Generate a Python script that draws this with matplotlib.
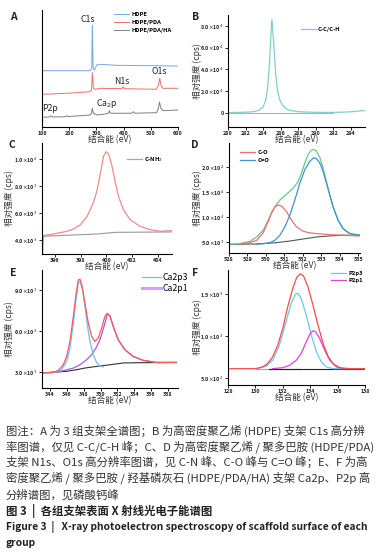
import matplotlib
matplotlib.use('Agg')
import matplotlib.pyplot as plt

plt.rcParams['font.family'] = ['Noto Sans CJK SC', 'DejaVu Sans']
plt.rcParams['mathtext.fontset'] = 'dejavusans'
plt.rcParams['axes.linewidth'] = 0.8

# ---- A: survey spectra (arbitrary offset units) ----
a_hdpe_x = [100, 277, 283, 285, 288, 293, 301, 313, 374, 600]
a_hdpe_y = [56.3, 56.3, 58.7, 102, 58.7, 57, 62, 62.7, 61.7, 61]
a_pda_x = [100, 191, 277, 282, 285, 289, 295, 313, 393, 399, 402, 521, 528, 533, 538, 545, 600]
a_pda_y = [32.7, 33.7, 35.3, 37, 54.3, 38.7, 37.7, 38.7, 38.3, 40.3, 38.3, 37.7, 42, 48.7, 41, 38.7, 38.7]
a_ha_x = [100, 128, 133, 138, 186, 191, 196, 277, 282, 285, 289, 301, 326, 344, 348, 351, 362,
          430, 436, 442, 521, 528, 532, 537, 545, 600]
a_ha_y = [9.7, 10, 11.2, 10, 10.3, 11.3, 10.4, 12, 13.7, 18.7, 13.7, 12, 12.7, 13.7, 16.3, 14, 13.7,
          13.8, 15.3, 13.8, 14.3, 18.7, 25, 18.7, 16.3, 17]

# ---- B: C1s of HDPE ----
b_x = [280, 281, 282, 282.5, 283, 283.5, 284, 284.3, 284.5, 284.7, 284.85, 285.0, 285.15, 285.3,
       285.45, 285.65, 285.9, 286.2, 286.6, 287, 288, 289, 290, 291, 292, 293, 294, 295, 295.6]
b_y = [300, 500, 700, 900, 1300, 2300, 5500, 12000, 22000, 43000, 66000, 86000, 70000, 52000,
       34000, 20000, 12000, 7000, 4000, 2500, 1200, 800, 600, 500, 500, 700, 1100, 1800, 2300]
b_base_x = [280, 292]
b_base_y = [0, 0]

# ---- C: N1s of HDPE/PDA ----
c_x = [395.1, 395.92, 396.95, 397.47, 397.98, 398.5, 399.02, 399.27, 399.53, 399.79, 399.99,
       400.18, 400.43, 400.69, 400.95, 401.34, 401.85, 402.62, 403.4, 404.17, 405.07]
c_y = [4360, 4480, 4680, 4850, 5160, 5770, 6860, 7700, 8920, 10250, 10560,
       10370, 9520, 8310, 7220, 6250, 5530, 5040, 4800, 4680, 4730]
c_base_x = [395.05, 395.1, 399.3, 400.7, 405.05]
c_base_y = [3000, 4310, 4480, 4600, 4630]

# ---- D: O1s of HDPE/PDA ----
d_env_x = [528.0, 528.59, 529.14, 529.5, 529.86, 530.22, 530.49, 530.76, 531.12, 531.48, 531.75,
           531.93, 532.11, 532.29, 532.47, 532.59, 532.74, 532.92, 533.1, 533.28, 533.46, 533.64,
           533.91, 534.18, 534.54, 535.08]
d_env_y = [4530, 4660, 5130, 6010, 7360, 10050, 12070, 13410, 14560, 15770, 17110,
           18800, 20820, 22500, 23370, 23510, 23170, 21960, 19810, 17110, 14420, 12070,
           9370, 7690, 6680, 6350]
d_co_x = [528.59, 529.14, 529.5, 529.86, 530.13, 530.31, 530.49, 530.67, 530.85, 531.12, 531.39,
          531.66, 532.02, 532.38, 532.74, 533.46, 534.18, 535.08]
d_co_y = [4600, 4870, 5340, 6880, 9170, 10920, 12070, 12400, 12200, 11060, 9370,
          8030, 7150, 6820, 6680, 6480, 6350, 6210]
d_c2o_x = [529.5, 529.86, 530.22, 530.49, 530.76, 531.03, 531.3, 531.57, 531.84, 532.11, 532.38,
           532.59, 532.74, 532.92, 533.1, 533.28, 533.46, 533.64, 533.91, 534.18, 534.54, 535.08]
d_c2o_y = [4600, 4660, 4870, 5340, 6350, 8030, 10380, 13410, 16780, 19470, 21150,
           21830, 21690, 20820, 19130, 16780, 14420, 12070, 9370, 7690, 6680, 6350]
d_base_x = [528.0, 529.5, 530.58, 531.3, 532.02, 532.74, 533.46, 534.18, 535.08]
d_base_y = [4530, 4600, 4870, 5200, 5600, 6010, 6210, 6350, 6350]

# ---- E: Ca2p of HDPE/PDA/HA ----
e_env_x = [343.13, 344.4, 344.99, 345.58, 345.98, 346.37, 346.77, 347.08, 347.36, 347.56, 347.79,
           348.15, 348.55, 348.94, 349.34, 349.73, 350.13, 350.52, 350.8, 351.11, 351.51, 352.1,
           352.89, 353.88, 355.07, 356.65, 359.02]
e_env_y = [2930, 2980, 3120, 3530, 4140, 5240, 7060, 8640, 9730, 9780, 9370,
           8030, 6570, 5600, 5240, 5480, 6210, 7060, 7300, 7110, 6330, 5360,
           4630, 4140, 3850, 3700, 3700]
e_p3_x = [343.13, 344.59, 345.38, 345.98, 346.37, 346.77, 347.08, 347.36, 347.56, 347.87, 348.15,
          348.43, 348.74, 349.14, 349.53, 349.93, 350.32]
e_p3_y = [2930, 2980, 3170, 3780, 4750, 6570, 8270, 9540, 9590, 9000, 7790,
          6450, 5240, 4260, 3700, 3460, 3360]
e_p1_x = [344.0, 344.99, 345.98, 346.77, 347.56, 348.35, 348.94, 349.53, 349.93, 350.32, 350.64,
          350.8, 351.11, 351.51, 352.1, 352.89, 353.88, 355.07, 356.65, 359.02]
e_p1_y = [2950, 3020, 3150, 3290, 3530, 3900, 4260, 4820, 5360, 6130, 6820,
          7250, 7110, 6330, 5360, 4630, 4140, 3850, 3700, 3700]
e_base_x = [343.13, 345.98, 347.16, 348.15, 349.53, 351.11, 352.69, 354.67, 359.02]
e_base_y = [2930, 3050, 3170, 3290, 3410, 3530, 3660, 3680, 3700]

# ---- F: P2p of HDPE/PDA/HA ----
f_env_x = [128.0, 130.03, 130.52, 130.89, 131.26, 131.63, 132.0, 132.36, 132.73, 133.02, 133.27,
           133.51, 133.83, 134.2, 134.57, 134.94, 135.3, 135.67, 136.16, 136.9, 138.0]
f_env_y = [612, 612, 632, 672, 752, 892, 1092, 1352, 1572, 1704, 1744,
           1720, 1592, 1372, 1132, 912, 760, 672, 624, 612, 612]
f_p3_x = [130.03, 130.77, 131.26, 131.75, 132.24, 132.61, 132.93, 133.1, 133.34, 133.71, 134.08,
          134.45, 134.81, 135.18, 135.67, 138.0]
f_p3_y = [612, 640, 712, 892, 1172, 1392, 1504, 1512, 1452, 1252, 1012,
          812, 692, 632, 612, 612]
f_p1_x = [131.26, 132.0, 132.49, 132.98, 133.34, 133.71, 134.0, 134.2, 134.4, 134.69, 135.06,
          135.43, 135.92, 136.41]
f_p1_y = [612, 624, 652, 712, 792, 932, 1032, 1064, 1052, 972, 832,
          712, 632, 612]
f_base_x = [131.0, 138.0]
f_base_y = [612, 612]
f_grey_x = [130.03, 133.22]
f_grey_y = [604, 604]

W, H = 380, 555
fig = plt.figure(figsize=(W / 100, H / 100), dpi=100)

TICK_FS = 3.9
LAB_FS = 6.2


def make_ax(l, t, r, b, ylab_x=None):
    ax = fig.add_axes([l / W, 1 - b / H, (r - l) / W, (b - t) / H])
    ax.patch.set_alpha(0)
    ax.spines['top'].set_visible(False)
    ax.spines['right'].set_visible(False)
    ax.tick_params(labelsize=TICK_FS, length=2, width=0.6, pad=1.2)
    ax.set_xlabel('结合能 (eV)', fontsize=LAB_FS, color='#333333')
    ax.xaxis.set_label_coords(0.5, -(12.5 / (b - t)))
    ax.xaxis.label.set_va('center')
    if ylab_x is not None:
        ax.set_ylabel('相对强度 (cps)', fontsize=LAB_FS, color='#333333')
        ax.yaxis.set_label_coords((ylab_x - l) / (r - l), 0.5)
        ax.yaxis.label.set_va('center')
    return ax


def style_ticks(ax):
    for lab in ax.get_xticklabels() + ax.get_yticklabels():
        lab.set_fontweight('bold')
        lab.set_fontsize(TICK_FS)
        lab.set_color('#222222')


leg_kw = dict(frameon=False, handlelength=2.6, handletextpad=0.4, borderpad=0.2,
              prop={'weight': 'bold', 'size': 4.2})

# A
axA = make_ax(42, 10, 178, 127)
axA.plot(a_hdpe_x, a_hdpe_y, color='#6fa8e6', lw=0.7, label='HDPE')
axA.plot(a_pda_x, a_pda_y, color='#f26d6d', lw=0.7, label='HDPE/PDA')
axA.plot(a_ha_x, a_ha_y, color='#7f7f7f', lw=0.7, label='HDPE/PDA/HA')
axA.set_xlim(100, 600)
axA.set_ylim(0, 117)
axA.set_yticks([])
axA.set_xticks([100, 200, 300, 400, 500, 600])
axA.legend(loc='upper left', bbox_to_anchor=(0.5, 1.02), labelspacing=0.55, **leg_kw)
for txt, x, y in [('C1s', 270, 108), ('N1s', 393, 45.5), ('O1s', 531, 55.5),
                  ('P2p', 130, 18.5), ('Ca$_2$p', 340, 24)]:
    axA.text(x, y, txt, ha='center', va='center', fontsize=6.3, color='#222222')
style_ticks(axA)

# B
axB = make_ax(228, 15, 365, 127, ylab_x=197)
axB.plot(b_base_x, b_base_y, color='#b0b0b0', lw=0.8)
axB.plot(b_x, b_y, color='#7fcfcf', lw=0.9, label='C-C/C-H')
axB.set_xlim(280, 295.6)
axB.set_ylim(-12900, 90000)
axB.set_xticks([280, 282, 284, 286, 288, 290, 292, 294])
axB.set_yticks([0, 20000, 40000, 60000, 80000])
axB.set_yticklabels(['0', r'2.0$\times$10$^4$', r'4.0$\times$10$^4$', r'6.0$\times$10$^4$',
                     r'8.0$\times$10$^4$'])
axB.legend(loc='upper left', bbox_to_anchor=(0.5, 0.93), **leg_kw)
style_ticks(axB)

# C
axC = make_ax(42, 143, 172, 254, ylab_x=9)
axC.plot(c_base_x, c_base_y, color='#999999', lw=0.8)
axC.plot(c_x, c_y, color='#f28a8a', lw=0.9, label='C-NH$_2$')
axC.set_xlim(395.0, 405.1)
axC.set_ylim(3000, 11200)
axC.set_xticks([396, 398, 400, 402, 404])
axC.set_yticks([4000, 6000, 8000, 10000])
axC.set_yticklabels([r'4.0$\times$10$^3$', r'6.0$\times$10$^3$', r'8.0$\times$10$^3$',
                     r'1.0$\times$10$^4$'])
axC.legend(loc='upper left', bbox_to_anchor=(0.62, 0.93), **leg_kw)
style_ticks(axC)

# D
axD = make_ax(229, 143, 360, 253, ylab_x=197)
axD.plot(d_base_x, d_base_y, color='#555555', lw=0.8)
axD.plot(d_env_x, d_env_y, color='#6cc58a', lw=0.9)
axD.plot(d_co_x, d_co_y, color='#f07070', lw=0.9, label='C-O')
axD.plot(d_c2o_x, d_c2o_y, color='#3f93d2', lw=0.9, label='C=O')
axD.set_xlim(528, 535.1)
axD.set_ylim(2800, 24800)
axD.set_xticks([528, 529, 530, 531, 532, 533, 534, 535])
axD.set_yticks([5000, 10000, 15000, 20000])
axD.set_yticklabels([r'5.0$\times$10$^3$', r'1.0$\times$10$^4$', r'1.5$\times$10$^4$',
                     r'2.0$\times$10$^4$'])
axD.legend(loc='upper left', bbox_to_anchor=(0.05, 0.97), labelspacing=0.4, **leg_kw)
style_ticks(axD)

# E
axE = make_ax(42, 270, 178, 388, ylab_x=9)
axE.plot(e_base_x, e_base_y, color='#333333', lw=0.8)
axE.plot(e_p1_x, e_p1_y, color='#a855f7', lw=0.9)
axE.plot(e_p3_x, e_p3_y, color='#6ac4ee', lw=0.9)
axE.plot(e_env_x, e_env_y, color='#ff5a5a', lw=0.9)
axE.plot([], [], color='#6ac4ee', lw=0.9, label='Ca2p3')
axE.plot([], [], color='#cfa0ff', lw=2.2, label='Ca2p1')
axE.set_xlim(343.05, 359.2)
axE.set_ylim(1830, 10460)
axE.set_xticks([344, 346, 348, 350, 352, 354, 356, 358])
axE.set_yticks([3000, 6000, 9000])
axE.set_yticklabels([r'3.0$\times$10$^3$', r'6.0$\times$10$^3$', r'9.0$\times$10$^3$'])
axE.legend(loc='upper left', bbox_to_anchor=(0.69, 1.03), frameon=False,
           handlelength=2.2, handletextpad=0.2, labelspacing=0.3, borderpad=0.2,
           prop={'size': 6.3})
style_ticks(axE)

# F
axF = make_ax(228, 270, 365, 385, ylab_x=197)
axF.plot(f_grey_x, f_grey_y, color='#aaaaaa', lw=0.9)
axF.plot(f_base_x, f_base_y, color='#222222', lw=0.8)
axF.plot(f_p3_x, f_p3_y, color='#6cc8f2', lw=0.9, label='P2p3')
axF.plot(f_p1_x, f_p1_y, color='#dd44dd', lw=0.9, label='P2p1')
axF.plot(f_env_x, f_env_y, color='#ff4a4a', lw=0.9)
axF.set_xlim(128, 138)
axF.set_ylim(417, 1790)
axF.set_xticks([128, 130, 132, 134, 136, 138])
axF.set_yticks([500, 1000, 1500])
axF.set_yticklabels([r'5.0$\times$10$^2$', r'1.0$\times$10$^3$', r'1.5$\times$10$^3$'])
axF.legend(loc='upper left', bbox_to_anchor=(0.72, 1.03), labelspacing=0.4, **leg_kw)
style_ticks(axF)

# panel letters
for letter, x, y in [('A', 13, 17), ('B', 196, 17), ('C', 12, 145),
                     ('D', 195, 145), ('E', 13, 273), ('F', 195, 273)]:
    fig.text(x / W, 1 - y / H, letter, fontsize=7.5, fontweight='bold',
             ha='center', va='center', color='#222222')

# caption
caption = [
    '图注：A 为 3 组支架全谱图；B 为高密度聚乙烯 (HDPE) 支架 C1s 高分辨',
    '率图谱，仅见 C-C/C-H 峰；C、D 为高密度聚乙烯 / 聚多巴胺 (HDPE/PDA)',
    '支架 N1s、O1s 高分辨率图谱，见 C-N 峰、C-O 峰与 C=O 峰；E、F 为高',
    '密度聚乙烯 / 聚多巴胺 / 羟基磷灰石 (HDPE/PDA/HA) 支架 Ca2p、P2p 高',
    '分辨谱图，见磷酸钙峰',
]
cap_y = [431, 447, 462, 478, 495]
for line, y in zip(caption, cap_y):
    fig.text(6 / W, 1 - y / H, line, fontsize=8.2, ha='left', va='center', color='#333333')
fig.text(6 / W, 1 - 511 / H, '图 3  |  各组支架表面 X 射线光电子能谱图', fontsize=8.2,
         ha='left', va='center', color='#222222', fontweight='bold')
fig.text(6 / W, 1 - 527 / H,
         'Figure 3  |   X-ray photoelectron spectroscopy of scaffold surface of each',
         fontsize=7.4, ha='left', va='center', color='#222222', fontweight='bold')
fig.text(6 / W, 1 - 543 / H, 'group', fontsize=7.4, ha='left', va='center',
         color='#222222', fontweight='bold')

fig.savefig('out.png', dpi=100)
